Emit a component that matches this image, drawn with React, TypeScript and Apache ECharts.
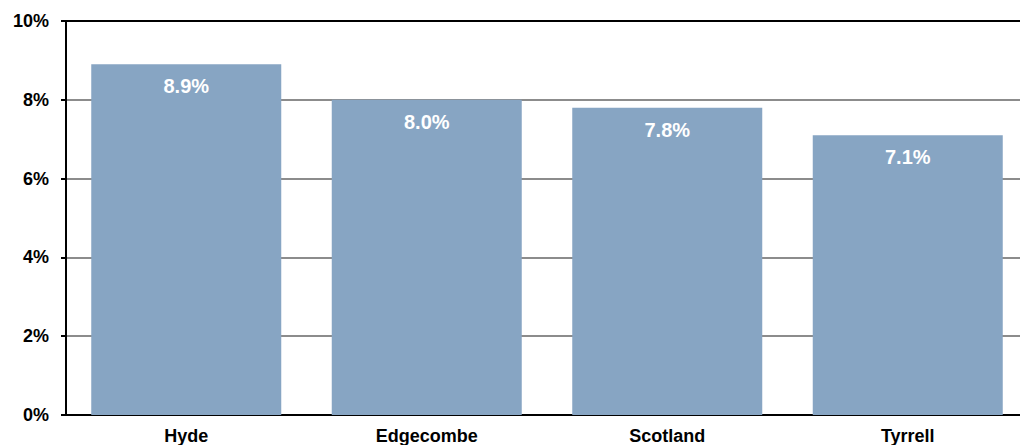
import React, { useEffect, useRef } from "react";
import * as echarts from "echarts";

const categories = ["Hyde", "Edgecombe", "Scotland", "Tyrrell"];
const values = [8.9, 8.0, 7.8, 7.1];
const yTicks = [0, 2, 4, 6, 8, 10];

export default function App() {
  const ref = useRef<HTMLDivElement>(null);
  useEffect(() => {
    if (!ref.current) return;
    const chart = echarts.init(ref.current, undefined, { renderer: "svg" });
    chart.setOption({
      animation: false,
      textStyle: { fontFamily: "Liberation Sans, Arial, sans-serif" },
      grid: { left: 66, right: 12, top: 21, bottom: 30 },
      xAxis: [
        {
          type: "category",
          data: categories,
          axisLine: { lineStyle: { color: "#000", width: 2 } },
          axisTick: { show: false },
          axisLabel: { color: "#000", fontWeight: "bold", fontSize: 18, margin: 12 },
        },
        {
          type: "category",
          data: categories,
          position: "top",
          axisLine: { show: true, lineStyle: { color: "#000", width: 2 } },
          axisTick: { show: false },
          axisLabel: { show: false },
        },
      ],
      yAxis: {
        type: "value",
        min: yTicks[0],
        max: yTicks[yTicks.length - 1],
        interval: 2,
        axisLine: { show: true, lineStyle: { color: "#000", width: 2 } },
        axisTick: { show: true, length: 5, lineStyle: { color: "#000", width: 2 } },
        axisLabel: {
          color: "#000",
          fontWeight: "bold",
          fontSize: 18,
          margin: 17,
          formatter: (v: number) => v + "%",
        },
        splitLine: { show: true, lineStyle: { color: "#8c8c8c", width: 2 } },
      },
      series: [
        {
          type: "bar",
          data: values,
          barWidth: 190,
          itemStyle: { color: "#87a5c3" },
          label: {
            show: true,
            position: "insideTop",
            distance: 12,
            color: "#fff",
            fontWeight: "bold",
            fontSize: 20,
            formatter: (p: any) => p.value.toFixed(1) + "%",
          },
        },
      ],
    });
    return () => chart.dispose();
  }, []);
  return (
    <div
      ref={ref}
      style={{ position: "fixed", left: 0, top: 0, width: 1040, height: 445, background: "#fff" }}
    />
  );
}
